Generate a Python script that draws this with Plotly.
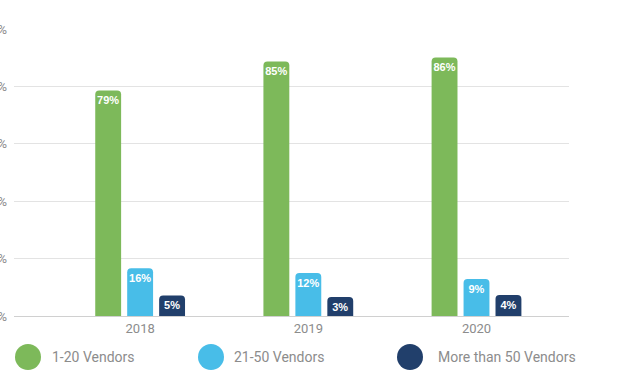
import plotly.graph_objects as go

years = ["2018", "2019", "2020"]
series_names = ["1-20 Vendors", "21-50 Vendors", "More than 50 Vendors"]
# printed data labels (percent)
labels_1_20 = [79, 85, 86]
labels_21_50 = [16, 12, 9]
labels_50_plus = [5, 3, 4]
# bar heights as drawn against the 0-100% grid in the picture
heights_1_20 = [78.6, 88.7, 90.1]
heights_21_50 = [16.6, 15.0, 12.9]
heights_50_plus = [7.1, 6.6, 7.3]
colors = ["#7DB95A", "#48BDE8", "#213F6B"]
y_ticks = [0, 20, 40, 60, 80, 100]
y_tick_text = ["0%", "20%", "40%", "60%", "80%", "100%"]

series_heights = [heights_1_20, heights_21_50, heights_50_plus]
series_labels = [labels_1_20, labels_21_50, labels_50_plus]

fig = go.Figure()
for name, hts, labs, col in zip(series_names, series_heights, series_labels, colors):
    fig.add_trace(go.Bar(
        x=years, y=hts, name=name, marker_color=col,
        marker_line_width=0,
        text=[f"{v}%" for v in labs],
        textposition="inside", insidetextanchor="end", textangle=0,
        constraintext="none", cliponaxis=False,
        textfont=dict(family="Arial", size=11, color="white", weight="bold"),
        showlegend=False, hoverinfo="skip",
    ))

# custom legend with large circles
L, R, T, B = 14, 51, 29, 64
pw, ph = 620 - L - R, 380 - T - B
leg_cx = [28, 211, 410]
leg_tx = [50, 232, 436]
leg_y = 357
for i, (name, col) in enumerate(zip(series_names, colors)):
    xa = (leg_cx[i] - L) / pw
    ya = (380 - B - leg_y) / ph
    fig.add_shape(type="circle", xref="paper", yref="paper",
                  xsizemode="pixel", ysizemode="pixel",
                  xanchor=xa, yanchor=ya, x0=-13, x1=13, y0=-13, y1=13,
                  fillcolor=col, line_width=0)
    fig.add_annotation(x=(leg_tx[i] - L) / pw, y=ya, xref="paper", yref="paper",
                       text=name, showarrow=False, xanchor="left", yanchor="middle",
                       font=dict(family="Roboto", size=14, color="#8C8C8C"))

fig.update_layout(
    width=620, height=380,
    margin=dict(l=L, r=R, t=T, b=B, autoexpand=False),
    paper_bgcolor="white", plot_bgcolor="white",
    barmode="group", bargap=0.43, bargroupgap=0.19,
    barcornerradius=4,
    uniformtext=dict(minsize=11, mode="show"),
    font=dict(family="Roboto", color="#8C8C8C"),
    xaxis=dict(range=[-0.75, 2.55], showgrid=False, showline=True,
               linecolor="#D0D0D0", linewidth=1, ticks="",
               tickfont=dict(size=13, color="#8C8C8C"), automargin=False),
    yaxis=dict(range=[0, 100], tickvals=y_ticks, ticktext=y_tick_text,
               showgrid=True, gridcolor="#E3E3E3", gridwidth=1,
               zeroline=False, showline=False, ticks="",
               tickfont=dict(size=13, color="#8C8C8C"), automargin=False,
               ticklabelstandoff=6),
)

fig.write_html("out.html", config={"displayModeBar": False},
               post_script="document.body.style.margin='0';document.body.style.padding='0';")
